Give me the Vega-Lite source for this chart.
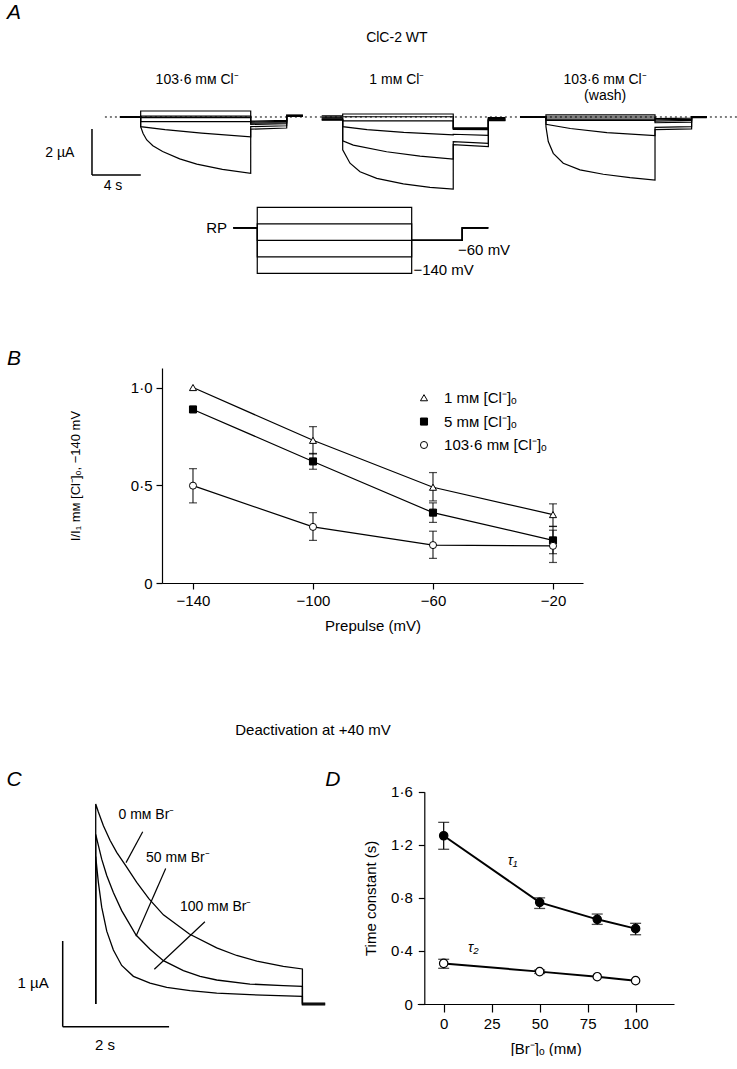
{
  "$schema": "https://vega.github.io/schema/vega-lite/v6.json",
  "padding": 0,
  "background": "white",
  "bounds": "flush",
  "spacing": 0,
  "resolve": {
    "scale": {"fill": "independent", "shape": "independent", "size": "independent"}
  },
  "config": {
    "view": {"stroke": null},
    "font": "Liberation Sans",
    "concat": {"spacing": 0},
    "axis": {"grid": false, "domainColor": "black", "tickColor": "black", "labelColor": "black", "titleColor": "black", "labelFont": "Liberation Sans", "titleFont": "Liberation Sans", "labelFontSize": 15, "titleFontSize": 15, "titleFontWeight": "normal", "tickSize": 6, "domainWidth": 1.2, "tickWidth": 1.2},
    "text": {"font": "Liberation Sans", "color": "black", "fontSize": 14}
  },
  "datasets": {
    "bdata": [
      {"v": -140, "y": 1.0, "lo": null, "hi": null, "s": "1 mᴍ [Cl⁻]ₒ"},
      {"v": -100, "y": 0.73, "lo": 0.66, "hi": 0.8, "s": "1 mᴍ [Cl⁻]ₒ"},
      {"v": -60, "y": 0.49, "lo": 0.42, "hi": 0.565, "s": "1 mᴍ [Cl⁻]ₒ"},
      {"v": -20, "y": 0.35, "lo": 0.29, "hi": 0.405, "s": "1 mᴍ [Cl⁻]ₒ"},
      {"v": -140, "y": 0.888, "lo": 0.875, "hi": 0.9, "s": "5 mᴍ [Cl⁻]ₒ"},
      {"v": -100, "y": 0.622, "lo": 0.582, "hi": 0.663, "s": "5 mᴍ [Cl⁻]ₒ"},
      {"v": -60, "y": 0.36, "lo": 0.31, "hi": 0.41, "s": "5 mᴍ [Cl⁻]ₒ"},
      {"v": -20, "y": 0.218, "lo": 0.15, "hi": 0.289, "s": "5 mᴍ [Cl⁻]ₒ"},
      {"v": -140, "y": 0.498, "lo": 0.41, "hi": 0.585, "s": "103·6 mᴍ [Cl⁻]ₒ"},
      {"v": -100, "y": 0.287, "lo": 0.218, "hi": 0.36, "s": "103·6 mᴍ [Cl⁻]ₒ"},
      {"v": -60, "y": 0.194, "lo": 0.126, "hi": 0.265, "s": "103·6 mᴍ [Cl⁻]ₒ"},
      {"v": -20, "y": 0.19, "lo": 0.105, "hi": 0.27, "s": "103·6 mᴍ [Cl⁻]ₒ"}
    ],
    "blegend": [
      {"v": -63.0, "vt": -56.3, "y": 0.948, "s": "1 mᴍ [Cl⁻]ₒ"},
      {"v": -63.0, "vt": -56.3, "y": 0.826, "s": "5 mᴍ [Cl⁻]ₒ"},
      {"v": -63.0, "vt": -56.3, "y": 0.706, "s": "103·6 mᴍ [Cl⁻]ₒ"}
    ],
    "ddata": [
      {"c": 0, "y": 1.268, "lo": 1.166, "hi": 1.369, "s": "τ1"},
      {"c": 50, "y": 0.766, "lo": 0.72, "hi": 0.8, "s": "τ1"},
      {"c": 80, "y": 0.638, "lo": 0.6, "hi": 0.678, "s": "τ1"},
      {"c": 100, "y": 0.568, "lo": 0.522, "hi": 0.608, "s": "τ1"},
      {"c": 0, "y": 0.306, "lo": 0.269, "hi": 0.337, "s": "τ2"},
      {"c": 50, "y": 0.244, "lo": 0.23, "hi": 0.256, "s": "τ2"},
      {"c": 80, "y": 0.206, "lo": null, "hi": null, "s": "τ2"},
      {"c": 100, "y": 0.176, "lo": null, "hi": null, "s": "τ2"}
    ]
  },
  "vconcat": [
    {
      "width": 737,
      "height": 200,
      "encoding": {
        "x": {"field": "t", "type": "quantitative", "scale": {"domain": [-11.53, 48.88], "nice": false, "zero": false}, "axis": null},
        "y": {"field": "i", "type": "quantitative", "scale": {"domain": [-3.609, 5.087], "nice": false, "zero": false}, "axis": null}
      },
      "layer": [
        {
          "data": {"values": [{"t": -2.93, "t2": 48.88, "i": 0}]},
          "mark": {"type": "rule", "strokeDash": [2, 3], "color": "black", "strokeWidth": 1},
          "encoding": {"x2": {"field": "t2"}}
        },
        {
          "data": {"values": [
            {"id": "g1a", "t": -1.7, "i": 0}, {"id": "g1a", "t": 0, "i": 0}, {"id": "g1a", "t": 0, "i": 0.26}, {"id": "g1a", "t": 9.02, "i": 0.26}, {"id": "g1a", "t": 9.02, "i": -0.18}, {"id": "g1a", "t": 11.97, "i": -0.15}, {"id": "g1a", "t": 11.97, "i": 0.07}, {"id": "g1a", "t": 13.3, "i": 0.07},
            {"id": "g1b", "t": -1.7, "i": 0}, {"id": "g1b", "t": 0, "i": 0}, {"id": "g1b", "t": 0, "i": 0.04}, {"id": "g1b", "t": 9.02, "i": 0.04}, {"id": "g1b", "t": 9.02, "i": -0.22}, {"id": "g1b", "t": 11.97, "i": -0.19}, {"id": "g1b", "t": 11.97, "i": 0.05}, {"id": "g1b", "t": 13.3, "i": 0.05},
            {"id": "g1c", "t": -1.7, "i": 0}, {"id": "g1c", "t": 0, "i": 0}, {"id": "g1c", "t": 0, "i": -0.03}, {"id": "g1c", "t": 9.02, "i": -0.03}, {"id": "g1c", "t": 9.02, "i": -0.27}, {"id": "g1c", "t": 11.97, "i": -0.24}, {"id": "g1c", "t": 11.97, "i": 0.03}, {"id": "g1c", "t": 13.3, "i": 0.03},
            {"id": "g1d", "t": -1.7, "i": 0}, {"id": "g1d", "t": 0, "i": 0}, {"id": "g1d", "t": 0, "i": -0.2}, {"id": "g1d", "t": 9.02, "i": -0.2}, {"id": "g1d", "t": 9.02, "i": -0.32}, {"id": "g1d", "t": 11.97, "i": -0.29}, {"id": "g1d", "t": 11.97, "i": 0.06}, {"id": "g1d", "t": 13.3, "i": 0.06},
            {"id": "g1e", "t": -1.7, "i": 0}, {"id": "g1e", "t": 0, "i": 0}, {"id": "g1e", "t": 0, "i": -0.42}, {"id": "g1e", "t": 2, "i": -0.55}, {"id": "g1e", "t": 5, "i": -0.7}, {"id": "g1e", "t": 9.02, "i": -0.86}, {"id": "g1e", "t": 9.02, "i": -0.42}, {"id": "g1e", "t": 11.97, "i": -0.38}, {"id": "g1e", "t": 11.97, "i": 0.04}, {"id": "g1e", "t": 13.3, "i": 0.04},
            {"id": "g1f", "t": -1.7, "i": 0}, {"id": "g1f", "t": 0, "i": 0}, {"id": "g1f", "t": 0, "i": -0.42}, {"id": "g1f", "t": 0.2, "i": -0.72}, {"id": "g1f", "t": 0.5, "i": -1.0}, {"id": "g1f", "t": 1.0, "i": -1.25}, {"id": "g1f", "t": 1.8, "i": -1.5}, {"id": "g1f", "t": 3.2, "i": -1.82}, {"id": "g1f", "t": 4.6, "i": -2.05}, {"id": "g1f", "t": 6.7, "i": -2.28}, {"id": "g1f", "t": 9.02, "i": -2.45}, {"id": "g1f", "t": 9.02, "i": -0.53}, {"id": "g1f", "t": 11.97, "i": -0.48}, {"id": "g1f", "t": 11.97, "i": 0.08}, {"id": "g1f", "t": 13.3, "i": 0.08},

            {"id": "g2a", "t": 14.84, "i": 0.05}, {"id": "g2a", "t": 16.56, "i": 0.05}, {"id": "g2a", "t": 16.56, "i": 0.13}, {"id": "g2a", "t": 25.62, "i": 0.13}, {"id": "g2a", "t": 25.62, "i": -0.47}, {"id": "g2a", "t": 28.5, "i": -0.47}, {"id": "g2a", "t": 28.5, "i": -0.03}, {"id": "g2a", "t": 29.9, "i": -0.03},
            {"id": "g2b", "t": 14.84, "i": 0.0}, {"id": "g2b", "t": 16.56, "i": 0.0}, {"id": "g2b", "t": 16.56, "i": 0.01}, {"id": "g2b", "t": 25.62, "i": 0.01}, {"id": "g2b", "t": 25.62, "i": -0.5}, {"id": "g2b", "t": 28.5, "i": -0.5}, {"id": "g2b", "t": 28.5, "i": -0.06}, {"id": "g2b", "t": 29.9, "i": -0.06},
            {"id": "g2c", "t": 14.84, "i": -0.04}, {"id": "g2c", "t": 16.56, "i": -0.04}, {"id": "g2c", "t": 16.56, "i": -0.17}, {"id": "g2c", "t": 25.62, "i": -0.17}, {"id": "g2c", "t": 25.62, "i": -0.54}, {"id": "g2c", "t": 28.5, "i": -0.55}, {"id": "g2c", "t": 28.5, "i": -0.09}, {"id": "g2c", "t": 29.9, "i": -0.09},
            {"id": "g2d", "t": 14.84, "i": -0.08}, {"id": "g2d", "t": 16.56, "i": -0.08}, {"id": "g2d", "t": 16.56, "i": -0.42}, {"id": "g2d", "t": 18.56, "i": -0.55}, {"id": "g2d", "t": 21.56, "i": -0.67}, {"id": "g2d", "t": 25.62, "i": -0.78}, {"id": "g2d", "t": 25.62, "i": -0.75}, {"id": "g2d", "t": 28.5, "i": -0.8}, {"id": "g2d", "t": 28.5, "i": -0.12}, {"id": "g2d", "t": 29.9, "i": -0.12},
            {"id": "g2e", "t": 14.84, "i": -0.11}, {"id": "g2e", "t": 16.56, "i": -0.11}, {"id": "g2e", "t": 16.56, "i": -1.04}, {"id": "g2e", "t": 17.43, "i": -1.22}, {"id": "g2e", "t": 20.16, "i": -1.51}, {"id": "g2e", "t": 22.9, "i": -1.7}, {"id": "g2e", "t": 25.62, "i": -1.83}, {"id": "g2e", "t": 25.62, "i": -1.07}, {"id": "g2e", "t": 28.5, "i": -1.15}, {"id": "g2e", "t": 28.5, "i": -0.14}, {"id": "g2e", "t": 29.9, "i": -0.14},
            {"id": "g2f", "t": 14.84, "i": -0.14}, {"id": "g2f", "t": 16.56, "i": -0.14}, {"id": "g2f", "t": 16.56, "i": -1.43}, {"id": "g2f", "t": 17.16, "i": -2.01}, {"id": "g2f", "t": 17.98, "i": -2.38}, {"id": "g2f", "t": 19.35, "i": -2.67}, {"id": "g2f", "t": 21.53, "i": -2.91}, {"id": "g2f", "t": 23.72, "i": -3.06}, {"id": "g2f", "t": 25.62, "i": -3.14}, {"id": "g2f", "t": 25.62, "i": -1.2}, {"id": "g2f", "t": 28.5, "i": -1.29}, {"id": "g2f", "t": 28.5, "i": -0.16}, {"id": "g2f", "t": 29.9, "i": -0.16},

            {"id": "g3a", "t": 31.09, "i": 0}, {"id": "g3a", "t": 33.22, "i": 0}, {"id": "g3a", "t": 33.22, "i": 0.09}, {"id": "g3a", "t": 42.16, "i": 0.09}, {"id": "g3a", "t": 42.16, "i": -0.07}, {"id": "g3a", "t": 45.16, "i": -0.05}, {"id": "g3a", "t": 45.16, "i": 0.02}, {"id": "g3a", "t": 46.4, "i": 0.02},
            {"id": "g3b", "t": 31.09, "i": 0}, {"id": "g3b", "t": 33.22, "i": 0}, {"id": "g3b", "t": 33.22, "i": 0.0}, {"id": "g3b", "t": 42.16, "i": 0.0}, {"id": "g3b", "t": 42.16, "i": -0.12}, {"id": "g3b", "t": 45.16, "i": -0.1}, {"id": "g3b", "t": 45.16, "i": 0.0}, {"id": "g3b", "t": 46.4, "i": 0.0},
            {"id": "g3c", "t": 31.09, "i": 0}, {"id": "g3c", "t": 33.22, "i": 0}, {"id": "g3c", "t": 33.22, "i": -0.09}, {"id": "g3c", "t": 42.16, "i": -0.09}, {"id": "g3c", "t": 42.16, "i": -0.18}, {"id": "g3c", "t": 45.16, "i": -0.15}, {"id": "g3c", "t": 45.16, "i": -0.02}, {"id": "g3c", "t": 46.4, "i": -0.02},
            {"id": "g3d", "t": 31.09, "i": 0}, {"id": "g3d", "t": 33.22, "i": 0}, {"id": "g3d", "t": 33.22, "i": -0.15}, {"id": "g3d", "t": 42.16, "i": -0.15}, {"id": "g3d", "t": 42.16, "i": -0.25}, {"id": "g3d", "t": 45.16, "i": -0.22}, {"id": "g3d", "t": 45.16, "i": 0.01}, {"id": "g3d", "t": 46.4, "i": 0.01},
            {"id": "g3e", "t": 31.09, "i": 0}, {"id": "g3e", "t": 33.22, "i": 0}, {"id": "g3e", "t": 33.22, "i": -0.32}, {"id": "g3e", "t": 35.22, "i": -0.5}, {"id": "g3e", "t": 38.22, "i": -0.68}, {"id": "g3e", "t": 42.16, "i": -0.81}, {"id": "g3e", "t": 42.16, "i": -0.45}, {"id": "g3e", "t": 45.16, "i": -0.42}, {"id": "g3e", "t": 45.16, "i": -0.03}, {"id": "g3e", "t": 46.4, "i": -0.03},
            {"id": "g3f", "t": 31.09, "i": 0}, {"id": "g3f", "t": 33.22, "i": 0}, {"id": "g3f", "t": 33.22, "i": -0.42}, {"id": "g3f", "t": 33.41, "i": -1.07}, {"id": "g3f", "t": 33.82, "i": -1.58}, {"id": "g3f", "t": 34.64, "i": -2.01}, {"id": "g3f", "t": 36.01, "i": -2.3}, {"id": "g3f", "t": 37.92, "i": -2.49}, {"id": "g3f", "t": 40.11, "i": -2.64}, {"id": "g3f", "t": 42.16, "i": -2.74}, {"id": "g3f", "t": 42.16, "i": -0.55}, {"id": "g3f", "t": 45.16, "i": -0.52}, {"id": "g3f", "t": 45.16, "i": 0.02}, {"id": "g3f", "t": 46.4, "i": 0.02}
          ]},
          "mark": {"type": "line", "color": "black", "strokeWidth": 1.2},
          "encoding": {"detail": {"field": "id"}, "order": {"value": null}}
        },
        {
          "data": {"values": [
            {"t": -3.99, "t2": -3.99, "i": -0.52, "i2": -2.52},
            {"t": -3.99, "t2": 0.01, "i": -2.52, "i2": -2.52}
          ]},
          "mark": {"type": "rule", "color": "black", "strokeWidth": 1.5},
          "encoding": {"x2": {"field": "t2"}, "y2": {"field": "i2"}}
        },
        {
          "data": {"values": [
            {"t": 21.0, "i": 3.43, "label": "ClC-2 WT"},
            {"t": 4.63, "i": 1.61, "label": "103·6 mᴍ Cl⁻"},
            {"t": 21.0, "i": 1.61, "label": "1 mᴍ Cl⁻"},
            {"t": 38.07, "i": 1.61, "label": "103·6 mᴍ Cl⁻"},
            {"t": 38.07, "i": 0.913, "label": "(wash)"},
            {"t": -6.62, "i": -1.565, "label": "2 µA"},
            {"t": -2.27, "i": -3.0, "label": "4 s"}
          ]},
          "mark": {"type": "text", "fontSize": 14},
          "encoding": {"text": {"field": "label"}}
        },
        {
          "data": {"values": [{"t": -10.38, "i": 4.52, "label": "A"}]},
          "mark": {"type": "text", "fontSize": 21, "fontStyle": "italic"},
          "encoding": {"text": {"field": "label"}}
        }
      ]
    },
    {
      "width": 737,
      "height": 168,
      "encoding": {
        "x": {"field": "t", "type": "quantitative", "scale": {"domain": [-15.16, 28.27], "nice": false, "zero": false}, "axis": null},
        "y": {"field": "mv", "type": "quantitative", "scale": {"domain": [-369.6, 37.7], "nice": false, "zero": false}, "axis": null}
      },
      "layer": [
        {
          "data": {"values": [
            {"id": "p20", "t": -1.41, "mv": -30}, {"id": "p20", "t": 0, "mv": -30}, {"id": "p20", "t": 0, "mv": 20}, {"id": "p20", "t": 9.1, "mv": 20}, {"id": "p20", "t": 9.1, "mv": -60}, {"id": "p20", "t": 12.08, "mv": -60}, {"id": "p20", "t": 12.08, "mv": -30}, {"id": "p20", "t": 13.61, "mv": -30},
            {"id": "m20", "t": -1.41, "mv": -30}, {"id": "m20", "t": 0, "mv": -30}, {"id": "m20", "t": 0, "mv": -20}, {"id": "m20", "t": 9.1, "mv": -20}, {"id": "m20", "t": 9.1, "mv": -60}, {"id": "m20", "t": 12.08, "mv": -60}, {"id": "m20", "t": 12.08, "mv": -30}, {"id": "m20", "t": 13.61, "mv": -30},
            {"id": "m60", "t": -1.41, "mv": -30}, {"id": "m60", "t": 0, "mv": -30}, {"id": "m60", "t": 0, "mv": -60}, {"id": "m60", "t": 9.1, "mv": -60}, {"id": "m60", "t": 9.1, "mv": -60}, {"id": "m60", "t": 12.08, "mv": -60}, {"id": "m60", "t": 12.08, "mv": -30}, {"id": "m60", "t": 13.61, "mv": -30},
            {"id": "m100", "t": -1.41, "mv": -30}, {"id": "m100", "t": 0, "mv": -30}, {"id": "m100", "t": 0, "mv": -100}, {"id": "m100", "t": 9.1, "mv": -100}, {"id": "m100", "t": 9.1, "mv": -60}, {"id": "m100", "t": 12.08, "mv": -60}, {"id": "m100", "t": 12.08, "mv": -30}, {"id": "m100", "t": 13.61, "mv": -30},
            {"id": "m140", "t": -1.41, "mv": -30}, {"id": "m140", "t": 0, "mv": -30}, {"id": "m140", "t": 0, "mv": -140}, {"id": "m140", "t": 9.1, "mv": -140}, {"id": "m140", "t": 9.1, "mv": -60}, {"id": "m140", "t": 12.08, "mv": -60}, {"id": "m140", "t": 12.08, "mv": -30}, {"id": "m140", "t": 13.61, "mv": -30}
          ]},
          "mark": {"type": "line", "color": "black", "strokeWidth": 1.2},
          "encoding": {"detail": {"field": "id"}, "order": {"value": null}}
        },
        {
          "data": {"values": [{"t": -1.78, "mv": -29.5, "label": "RP"}]},
          "mark": {"type": "text", "fontSize": 15, "align": "right"},
          "encoding": {"text": {"field": "label"}}
        },
        {
          "data": {"values": [
            {"t": 11.83, "mv": -83.5, "label": "−60 mV"},
            {"t": 9.2, "mv": -132, "label": "−140 mV"}
          ]},
          "mark": {"type": "text", "fontSize": 15, "align": "left"},
          "encoding": {"text": {"field": "label"}}
        }
      ]
    },
    {
      "width": 737,
      "height": 215,
      "data": {"name": "bdata"},
      "encoding": {
        "x": {"field": "v", "type": "quantitative", "scale": {"domain": [-150.33, -10], "range": [162, 583], "nice": false, "zero": false},
              "axis": {"orient": "bottom", "values": [-140, -100, -60, -20], "title": "Prepulse (mV)", "labelPadding": 4, "titlePadding": 10, "labelFlush": false}}
      },
      "layer": [
        {
          "mark": {"type": "line", "color": "black", "strokeWidth": 1.2},
          "encoding": {
            "y": {"field": "y", "type": "quantitative", "scale": {"domain": [0, 1.1], "nice": false, "zero": false},
                  "axis": {"orient": "left", "offset": -162, "values": [0, 0.5, 1], "labelExpr": "datum.value == 0 ? '0' : replace(format(datum.value, '.1f'), '.', '·')", "title": "I/I₁ mᴍ [Cl⁻]ₒ, −140 mV", "titleFontSize": 13, "titlePadding": 48, "labelPadding": 4}},
            "detail": {"field": "s"}
          }
        },
        {
          "mark": {"type": "rule", "color": "black", "strokeWidth": 1},
          "encoding": {"y": {"field": "lo", "type": "quantitative"}, "y2": {"field": "hi"}}
        },
        {
          "mark": {"type": "tick", "orient": "horizontal", "color": "black", "size": 8, "thickness": 1.2},
          "encoding": {"y": {"field": "lo", "type": "quantitative"}}
        },
        {
          "mark": {"type": "tick", "orient": "horizontal", "color": "black", "size": 8, "thickness": 1.2},
          "encoding": {"y": {"field": "hi", "type": "quantitative"}}
        },
        {
          "mark": {"type": "point", "filled": true, "stroke": "black", "strokeWidth": 1, "opacity": 1},
          "encoding": {
            "y": {"field": "y", "type": "quantitative"},
            "shape": {"field": "s", "type": "nominal", "scale": {"domain": ["1 mᴍ [Cl⁻]ₒ", "5 mᴍ [Cl⁻]ₒ", "103·6 mᴍ [Cl⁻]ₒ"], "range": ["triangle-up", "square", "circle"]}, "legend": null},
            "fill": {"field": "s", "type": "nominal", "scale": {"domain": ["1 mᴍ [Cl⁻]ₒ", "5 mᴍ [Cl⁻]ₒ", "103·6 mᴍ [Cl⁻]ₒ"], "range": ["white", "black", "white"]}, "legend": null},
            "size": {"field": "s", "type": "nominal", "scale": {"domain": ["1 mᴍ [Cl⁻]ₒ", "5 mᴍ [Cl⁻]ₒ", "103·6 mᴍ [Cl⁻]ₒ"], "range": [50, 50, 90]}, "legend": null}
          }
        },
        {
          "data": {"name": "blegend"},
          "mark": {"type": "point", "filled": true, "stroke": "black", "strokeWidth": 1, "opacity": 1},
          "encoding": {
            "y": {"field": "y", "type": "quantitative"},
            "shape": {"field": "s", "type": "nominal", "legend": null},
            "fill": {"field": "s", "type": "nominal", "legend": null},
            "size": {"field": "s", "type": "nominal", "legend": null}
          }
        },
        {
          "data": {"name": "blegend"},
          "mark": {"type": "text", "fontSize": 15, "align": "left"},
          "encoding": {
            "x": {"field": "vt", "type": "quantitative"},
            "y": {"field": "y", "type": "quantitative"},
            "text": {"field": "s"}
          }
        },
        {
          "data": {"values": [{"v": -199.7, "y": 1.148, "label": "B"}]},
          "mark": {"type": "text", "fontSize": 21, "fontStyle": "italic"},
          "encoding": {"y": {"field": "y", "type": "quantitative"}, "text": {"field": "label"}}
        }
      ]
    },
    {
      "width": 737,
      "height": 421,
      "resolve": {"scale": {"x": "independent", "y": "independent"}, "axis": {"x": "independent", "y": "independent"}},
      "layer": [
        {
          "encoding": {
            "x": {"field": "t", "type": "quantitative", "scale": {"domain": [-1.806, 12.1], "nice": false, "zero": false}, "axis": null},
            "y": {"field": "i", "type": "quantitative", "scale": {"domain": [0, 4.913], "nice": false, "zero": false}, "axis": null}
          },
          "layer": [
            {
              "data": {"values": [
                {"id": "b0", "t": 0, "i": 0}, {"id": "b0", "t": 0, "i": 2.335}, {"id": "b0", "t": 0.05, "i": 2.24}, {"id": "b0", "t": 0.145, "i": 2.08}, {"id": "b0", "t": 0.27, "i": 1.91}, {"id": "b0", "t": 0.396, "i": 1.77}, {"id": "b0", "t": 0.572, "i": 1.61}, {"id": "b0", "t": 0.774, "i": 1.42}, {"id": "b0", "t": 1.006, "i": 1.226}, {"id": "b0", "t": 1.277, "i": 1.04}, {"id": "b0", "t": 1.767, "i": 0.817}, {"id": "b0", "t": 2.283, "i": 0.655}, {"id": "b0", "t": 2.66, "i": 0.566}, {"id": "b0", "t": 3.04, "i": 0.5}, {"id": "b0", "t": 3.54, "i": 0.44}, {"id": "b0", "t": 3.9, "i": 0.409}, {"id": "b0", "t": 3.9, "i": 0.01}, {"id": "b0", "t": 4.33, "i": 0.01},
                {"id": "b50", "t": 0, "i": 0}, {"id": "b50", "t": 0, "i": 1.98}, {"id": "b50", "t": 0.05, "i": 1.85}, {"id": "b50", "t": 0.113, "i": 1.69}, {"id": "b50", "t": 0.208, "i": 1.5}, {"id": "b50", "t": 0.333, "i": 1.3}, {"id": "b50", "t": 0.49, "i": 1.09}, {"id": "b50", "t": 0.761, "i": 0.805}, {"id": "b50", "t": 1.025, "i": 0.64}, {"id": "b50", "t": 1.277, "i": 0.506}, {"id": "b50", "t": 1.654, "i": 0.389}, {"id": "b50", "t": 1.969, "i": 0.323}, {"id": "b50", "t": 2.283, "i": 0.28}, {"id": "b50", "t": 2.91, "i": 0.233}, {"id": "b50", "t": 3.54, "i": 0.214}, {"id": "b50", "t": 3.9, "i": 0.206}, {"id": "b50", "t": 3.9, "i": 0.0}, {"id": "b50", "t": 4.33, "i": 0.0},
                {"id": "b100", "t": 0, "i": 0}, {"id": "b100", "t": 0, "i": 1.72}, {"id": "b100", "t": 0.05, "i": 1.42}, {"id": "b100", "t": 0.113, "i": 1.13}, {"id": "b100", "t": 0.208, "i": 0.85}, {"id": "b100", "t": 0.333, "i": 0.63}, {"id": "b100", "t": 0.49, "i": 0.45}, {"id": "b100", "t": 0.711, "i": 0.323}, {"id": "b100", "t": 1.025, "i": 0.245}, {"id": "b100", "t": 1.34, "i": 0.195}, {"id": "b100", "t": 1.78, "i": 0.156}, {"id": "b100", "t": 2.283, "i": 0.128}, {"id": "b100", "t": 2.91, "i": 0.109}, {"id": "b100", "t": 3.9, "i": 0.089}, {"id": "b100", "t": 3.9, "i": -0.01}, {"id": "b100", "t": 4.33, "i": -0.01}
              ]},
              "mark": {"type": "line", "color": "black", "strokeWidth": 1.3},
              "encoding": {"detail": {"field": "id"}, "order": {"value": null}}
            },
            {
              "data": {"values": [
                {"t": 0.887, "i": 2.01, "t2": 0.572, "i2": 1.65},
                {"t": 1.32, "i": 1.58, "t2": 0.76, "i2": 0.79},
                {"t": 2.06, "i": 0.96, "t2": 1.106, "i2": 0.405}
              ]},
              "mark": {"type": "rule", "color": "black", "strokeWidth": 1.2},
              "encoding": {"x2": {"field": "t2"}, "y2": {"field": "i2"}}
            },
            {
              "data": {"values": [
                {"t": -0.623, "t2": -0.623, "i": 0.735, "i2": -0.265},
                {"t": -0.623, "t2": 1.384, "i": -0.265, "i2": -0.265}
              ]},
              "mark": {"type": "rule", "color": "black", "strokeWidth": 1.5},
              "encoding": {"x2": {"field": "t2"}, "y2": {"field": "i2"}}
            },
            {
              "data": {"values": [
                {"t": 0.43, "i": 2.205, "label": "0 mᴍ Br⁻"},
                {"t": 0.95, "i": 1.7, "label": "50 mᴍ Br⁻"},
                {"t": 1.59, "i": 1.13, "label": "100 mᴍ Br⁻"}
              ]},
              "mark": {"type": "text", "fontSize": 14, "align": "left"},
              "encoding": {"text": {"field": "label"}}
            },
            {
              "data": {"values": [
                {"t": -1.18, "i": 0.245, "label": "1 µA"},
                {"t": 0.176, "i": -0.478, "label": "2 s"},
                {"t": 4.1, "i": 3.197, "label": "Deactivation at +40 mV"}
              ]},
              "mark": {"type": "text", "fontSize": 15},
              "encoding": {"text": {"field": "label"}}
            },
            {
              "data": {"values": [{"t": -1.54, "i": 2.614, "label": "C"}]},
              "mark": {"type": "text", "fontSize": 21, "fontStyle": "italic"},
              "encoding": {"text": {"field": "label"}}
            }
          ]
        },
        {
          "data": {"name": "ddata"},
          "encoding": {
            "x": {"field": "c", "type": "quantitative", "scale": {"domain": [-13.75, 120], "range": [417.3, 674], "nice": false, "zero": false},
                  "axis": {"orient": "bottom", "values": [0, 25, 50, 75, 100], "title": "[Br⁻]ₒ (mᴍ)", "tickSize": 8, "labelPadding": 4, "titlePadding": 10, "labelFlush": false}}
          },
          "layer": [
            {
              "mark": {"type": "line", "color": "black", "strokeWidth": 2},
              "encoding": {
                "y": {"field": "y", "type": "quantitative", "scale": {"domain": [0, 1.6], "range": [421, 208.7], "nice": false, "zero": false},
                      "axis": {"orient": "left", "values": [0, 0.4, 0.8, 1.2, 1.6], "labelExpr": "datum.value == 0 ? '0' : replace(format(datum.value, '.1f'), '.', '·')", "title": "Time constant (s)", "offset": -424.3, "labelPadding": 6, "titlePadding": 12}},
                "detail": {"field": "s"}
              }
            },
            {
              "mark": {"type": "rule", "color": "black", "strokeWidth": 1.2},
              "encoding": {"y": {"field": "lo", "type": "quantitative"}, "y2": {"field": "hi"}}
            },
            {
              "mark": {"type": "tick", "orient": "horizontal", "color": "black", "size": 11, "thickness": 1.3},
              "encoding": {"y": {"field": "lo", "type": "quantitative"}}
            },
            {
              "mark": {"type": "tick", "orient": "horizontal", "color": "black", "size": 11, "thickness": 1.3},
              "encoding": {"y": {"field": "hi", "type": "quantitative"}}
            },
            {
              "mark": {"type": "point", "filled": true, "stroke": "black", "strokeWidth": 1.2, "opacity": 1, "size": 70},
              "encoding": {
                "y": {"field": "y", "type": "quantitative"},
                "fill": {"field": "s", "type": "nominal", "scale": {"domain": ["τ1", "τ2"], "range": ["black", "white"]}, "legend": null}
              }
            },
            {
              "data": {"values": [
                {"c": 35.9, "y": 1.078, "label": "τ₁"},
                {"c": 15.4, "y": 0.42, "label": "τ₂"}
              ]},
              "mark": {"type": "text", "fontSize": 14, "fontStyle": "italic"},
              "encoding": {"y": {"field": "y", "type": "quantitative"}, "text": {"field": "label"}}
            },
            {
              "data": {"values": [{"c": -57.7, "y": 1.688, "label": "D"}]},
              "mark": {"type": "text", "fontSize": 21, "fontStyle": "italic"},
              "encoding": {"y": {"field": "y", "type": "quantitative"}, "text": {"field": "label"}}
            }
          ]
        }
      ]
    }
  ]
}
